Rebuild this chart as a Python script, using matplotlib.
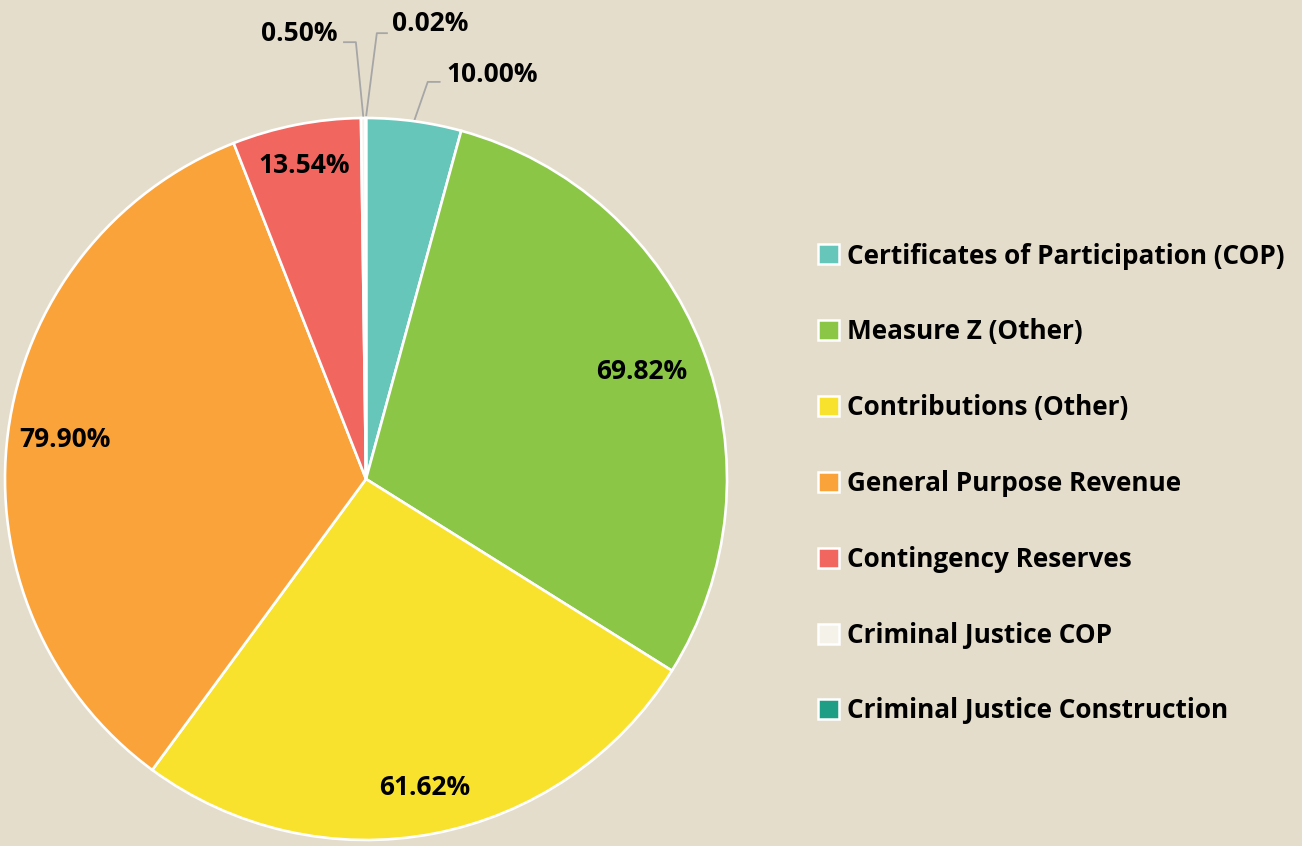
import matplotlib.pyplot as plt
from matplotlib.patches import Patch
import numpy as np

# data
categories = ['Certificates of Participation (COP)', 'Measure Z (Other)',
              'Contributions (Other)', 'General Purpose Revenue',
              'Contingency Reserves', 'Criminal Justice COP',
              'Criminal Justice Construction']
values = [10.00, 69.82, 61.62, 79.90, 13.54, 0.50, 0.02]
colors = ['#66C6BA', '#8BC646', '#F9E22E', '#F9A33A', '#F26660', '#F5F2EA', '#1E9E84']

plt.rcParams['font.family'] = ['Open Sans', 'DejaVu Sans']
bg = '#E5DDCC'

fig = plt.figure(figsize=(13.02, 8.46), dpi=100, facecolor=bg)
# pie centre ~(366,479) px, radius ~361 px
r_px = 361
cx, cy = 366, 846 - 479
ax = fig.add_axes([(cx - r_px) / 1302, (cy - r_px) / 846, 2 * r_px / 1302, 2 * r_px / 846])
ax.set_facecolor(bg)

wedges, _ = ax.pie(values, colors=colors, startangle=90, counterclock=False,
                   radius=1, wedgeprops=dict(edgecolor='white', linewidth=1.9))
ax.set_xlim(-1, 1)
ax.set_ylim(-1, 1)
ax.set_aspect('equal')
ax.axis('off')

lab_font = dict(fontsize=19, fontweight='bold', color='black')

# inside labels: distance from centre
inside = {1: 0.82, 2: 0.87, 3: 0.84, 4: 0.885}
# outside labels: elbow point, line end, text centre (data units)
outside = {
    0: ((0.171, 1.10), (0.204, 1.10), (0.35, 1.12)),
    5: ((-0.028, 1.21), (-0.061, 1.21), (-0.185, 1.235)),
    6: ((0.030, 1.235), (0.058, 1.235), (0.178, 1.262)),
}

for i, w in enumerate(wedges):
    mid = np.deg2rad((w.theta1 + w.theta2) / 2)
    txt = '{:.2f}%'.format(values[i])
    if i in outside:
        elbow, end, tpos = outside[i]
        x0, y0 = np.cos(mid), np.sin(mid)
        ax.plot([x0, elbow[0], end[0]], [y0, elbow[1], end[1]],
                color='#A6A6A6', lw=1.3, clip_on=False, zorder=0)
        ax.text(tpos[0], tpos[1], txt, ha='center', va='center', clip_on=False, **lab_font)
    else:
        d = inside[i]
        ax.text(d * np.cos(mid), d * np.sin(mid), txt, ha='center', va='center', **lab_font)

handles = [Patch(facecolor=c, edgecolor='white', linewidth=1.8) for c in colors]
leg = fig.legend(handles, categories, loc='center left', bbox_to_anchor=(808 / 1302, 1 - 483.5 / 846),
                 frameon=False, fontsize=18.8, handlelength=0.8, handleheight=0.8,
                 handletextpad=0.3, labelspacing=1.87, borderaxespad=0)
for t in leg.get_texts():
    t.set_fontweight('bold')

fig.savefig('out.png', dpi=100, facecolor=bg)
